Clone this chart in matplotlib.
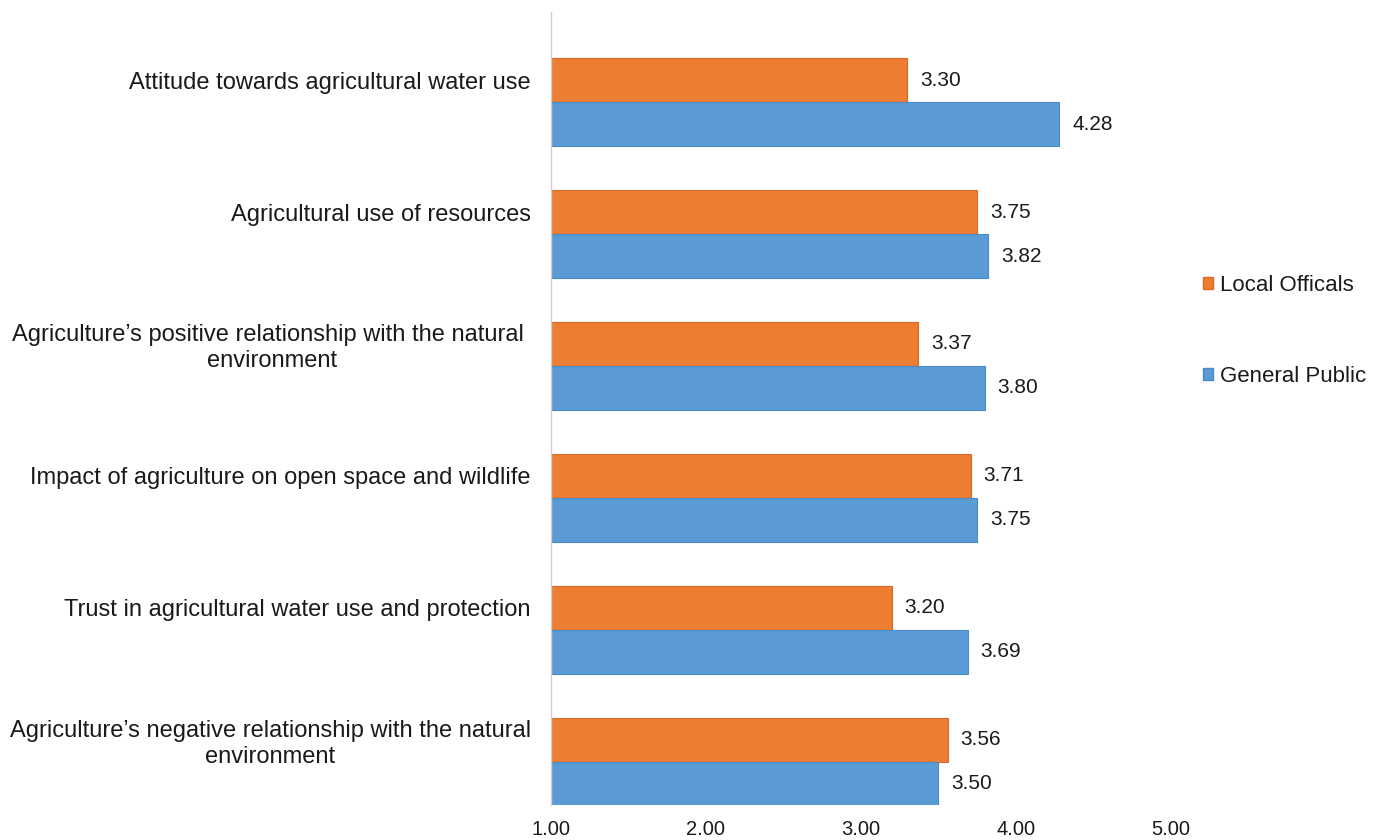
import matplotlib.pyplot as plt
import numpy as np
from matplotlib.patches import Patch

# Daten
kategorien = [
    'Attitude towards agricultural water use',
    'Agricultural use of resources',
    'Agriculture\u2019s positive relationship with the natural \nenvironment',
    'Impact of agriculture on open space and wildlife',
    'Trust in agricultural water use and protection',
    'Agriculture\u2019s negative relationship with the natural\nenvironment',
]
local_officals = [3.30, 3.75, 3.37, 3.71, 3.20, 3.56]
general_public = [4.28, 3.82, 3.80, 3.75, 3.69, 3.50]

plt.rcParams['font.family'] = ['Liberation Sans', 'DejaVu Sans']
plt.rcParams['font.size'] = 14.5
plt.rcParams['text.color'] = '#1a1a1a'

orange = '#ED7D31'
blue = '#5B9BD5'

fig = plt.figure(figsize=(13.76, 8.4), dpi=100)
ax = fig.add_axes([0.4004, 0.0417, 0.8510 - 0.4004, 0.9857 - 0.0417])

y = np.arange(len(kategorien))
h = 1 / 3

# Balken, Basis bei 1
lo = np.array(local_officals)
gp = np.array(general_public)
ax.barh(y - h / 2, lo - 1, left=1, height=h, color=orange,
        edgecolor='#D9692A', linewidth=0.8)
ax.barh(y + h / 2, gp - 1, left=1, height=h, color=blue,
        edgecolor='#4A8AC4', linewidth=0.8)

# Werte beschriften
for yi, v in zip(y - h / 2, lo):
    ax.text(v + 0.082, yi, f'{v:.2f}', va='center', ha='left', fontsize=15)
for yi, v in zip(y + h / 2, gp):
    ax.text(v + 0.082, yi, f'{v:.2f}', va='center', ha='left', fontsize=15)

ax.set_xlim(1, 5)
ax.set_xticks([1, 2, 3, 4, 5])
ax.set_xticklabels([f'{t:.2f}' for t in [1, 2, 3, 4, 5]])
ax.set_ylim(5.326, -0.682)
ax.set_yticks(y - h / 2)
ax.set_yticklabels(kategorien, fontsize=17)
for lbl in ax.get_yticklabels():
    lbl.set_multialignment('center')

ax.tick_params(axis='x', length=0, pad=11, colors='#1a1a1a')
ax.tick_params(axis='y', length=0, pad=14.4, colors='#1a1a1a')
for s in ['top', 'right', 'bottom']:
    ax.spines[s].set_visible(False)
ax.spines['left'].set_color('#d0d0d0')
ax.spines['left'].set_linewidth(1.0)

handles = [Patch(facecolor=orange, edgecolor='#D9692A'),
           Patch(facecolor=blue, edgecolor='#4A8AC4')]
fig.legend(handles, ['Local Officals', 'General Public'],
           loc='center left', bbox_to_anchor=(0.8662, 0.606),
           frameon=False, fontsize=16, handlelength=0.45, handleheight=0.45,
           handletextpad=0.3, labelspacing=3.12, borderpad=0)

plt.savefig('out.png', dpi=100)
